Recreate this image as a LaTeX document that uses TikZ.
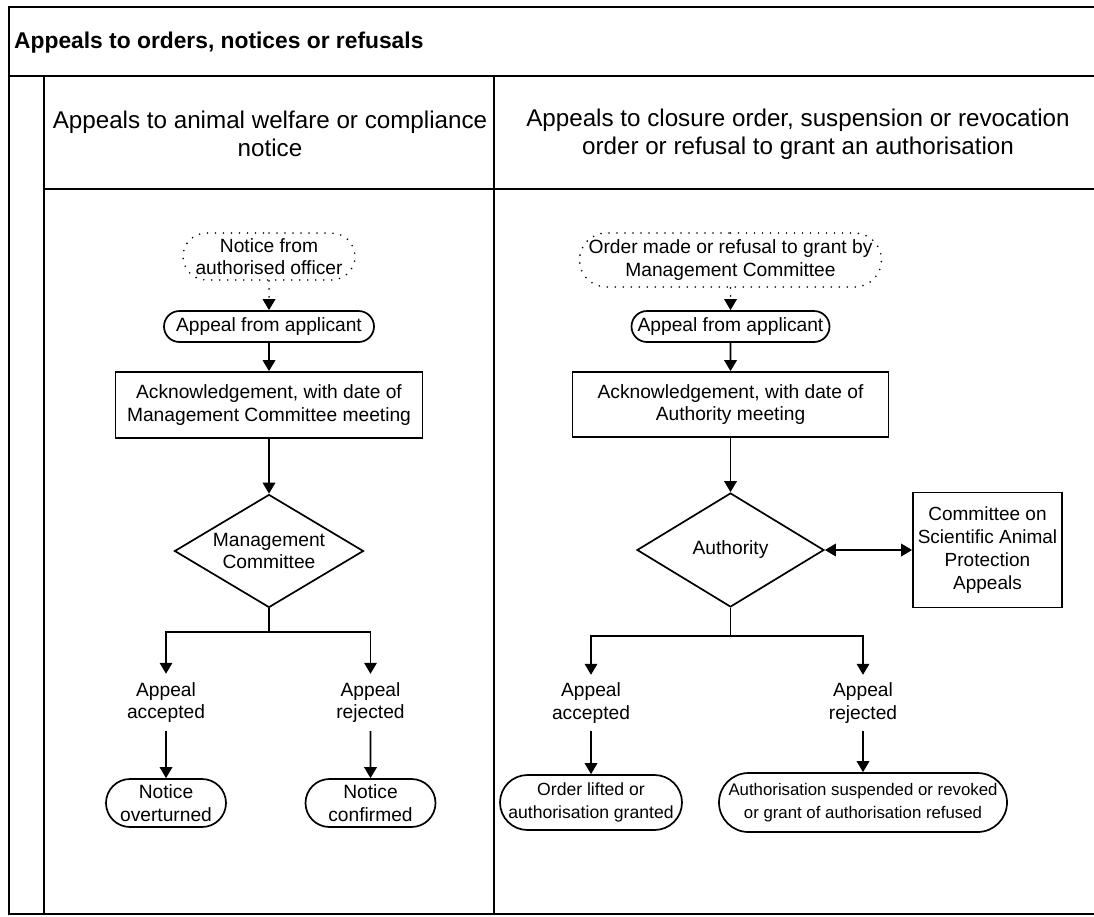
\documentclass[tikz,border=0pt]{standalone}
\usepackage{fontspec}
\setmainfont{Liberation Sans}
\usetikzlibrary{arrows.meta,shapes.geometric,shapes.misc}
\begin{document}
\begin{tikzpicture}[x=1pt,y=-1pt,
  frame/.style={line width=2pt},
  body/.style={font=\fontsize{19.2}{22.5}\selectfont, align=center, inner sep=0pt},
  boxnode/.style={body, draw, line width=1.7pt, rectangle},
  term/.style={body, draw, line width=1.7pt, rounded rectangle},
  dotnode/.style={body, draw, line width=1.8pt, rounded rectangle, dash pattern=on 0pt off 8pt, line cap=round},
  dia/.style={body, draw, line width=1.7pt, diamond},
  lbl/.style={body},
  hdr/.style={font=\fontsize{24.2}{28.5}\selectfont, align=center, inner sep=0pt},
  arr/.style={line width=1.8pt, -{Triangle[length=11pt,width=12.5pt]}},
  dotarr/.style={line width=1.8pt, dash pattern=on 0pt off 8pt, line cap=round, -{Triangle[length=11pt,width=12.5pt]}},
  biarr/.style={line width=1.8pt, {Triangle[length=11pt,width=12.5pt]}-{Triangle[length=11pt,width=12.5pt]}},
  conn/.style={line width=1.8pt},
]
\useasboundingbox (0,0) rectangle (1094,916);
\fill[white] (0,0) rectangle (1094,916);

% frame
\draw[frame] (9,7) rectangle (1096,914);
\draw[frame] (9,76) -- (1096,76);
\draw[frame] (44,76) -- (44,914);
\draw[frame] (494,76) -- (494,914);
\draw[frame] (44,189) -- (1096,189);

\node[anchor=west, inner sep=0pt, font=\bfseries\fontsize{22.8}{26}\selectfont] (title) at (14,43) {Appeals to orders, notices or refusals};
\node[hdr] (h1) at (270,134) {Appeals to animal welfare or compliance\\notice};
\node[hdr] (h2) at (798,134) {Appeals to closure order, suspension or revocation\\order or refusal to grant an authorisation};

% left lane
\node[dotnode, minimum width=172pt, minimum height=47pt] (n1) at (269,256.5) {Notice from\\authorised officer};
\node[term, minimum width=210pt, minimum height=31pt] (a1) at (269,326.5) {Appeal from applicant};
\node[boxnode, minimum width=307pt, minimum height=66pt] (b1) at (269,405) {Acknowledgement, with date of\\Management Committee meeting};
\node[dia, aspect=1.67, minimum width=189pt, minimum height=113pt] (d1) at (269,551) {Management\\Committee};
\coordinate (s1) at (269,632);
\node[lbl, minimum height=57pt] (acc1) at (166,702.5) {Appeal\\accepted};
\node[lbl, minimum height=57pt] (rej1) at (370.5,702.5) {Appeal\\rejected};
\node[term, minimum width=120pt, minimum height=48pt] (t1) at (166,803) {Notice\\overturned};
\node[term, minimum width=130pt, minimum height=48pt] (t2) at (370.5,803) {Notice\\confirmed};

\draw[dotarr] (n1) -- (a1);
\draw[arr] (a1) -- (b1);
\draw[arr] (b1) -- (d1);
\draw[conn] (d1.south) -- (s1);
\draw[arr] (s1) -| (acc1.north);
\draw[arr] (s1) -| (rej1.north);
\draw[arr] (acc1) -- (t1);
\draw[arr] (rej1) -- (t2);

% right lane
\node[dotnode, minimum width=289pt, minimum height=54pt] (n2) at (730.5,260) {Order made or refusal to grant by\\Management Committee};
\node[term, minimum width=198pt, minimum height=31pt] (a2) at (730.5,326.5) {Appeal from applicant};
\node[boxnode, minimum width=316pt, minimum height=65pt] (b2) at (730.5,404.5) {Acknowledgement, with date of\\Authority meeting};
\node[dia, aspect=1.64, minimum width=187pt, minimum height=114pt] (d2) at (730.5,550) {Authority};
\node[boxnode, minimum width=149pt, minimum height=115pt, font=\fontsize{19}{23}\selectfont] (c2) at (987.5,550) {Committee on\\Scientific Animal\\Protection\\Appeals};
\coordinate (s2) at (730.5,636);
\node[lbl, minimum height=56pt] (acc2) at (591,703) {Appeal\\accepted};
\node[lbl, minimum height=56pt] (rej2) at (863,703) {Appeal\\rejected};
\node[term, minimum width=172pt, minimum height=55pt, font=\fontsize{17.6}{23}\selectfont] (t3) at (591,802.5) {Order lifted or\\authorisation granted};
\node[term, minimum width=288pt, minimum height=59pt, font=\fontsize{16.8}{23}\selectfont] (t4) at (863,802.5) {Authorisation suspended or revoked\\or grant of authorisation refused};

\draw[dotarr] (n2) -- (a2);
\draw[arr] (a2) -- (b2);
\draw[arr] (b2) -- (d2);
\draw[biarr] (d2.east) -- (c2.west);
\draw[conn] (d2.south) -- (s2);
\draw[arr] (s2) -| (acc2.north);
\draw[arr] (s2) -| (rej2.north);
\draw[arr] (acc2) -- (t3);
\draw[arr] (rej2) -- (t4);
\end{tikzpicture}
\end{document}
